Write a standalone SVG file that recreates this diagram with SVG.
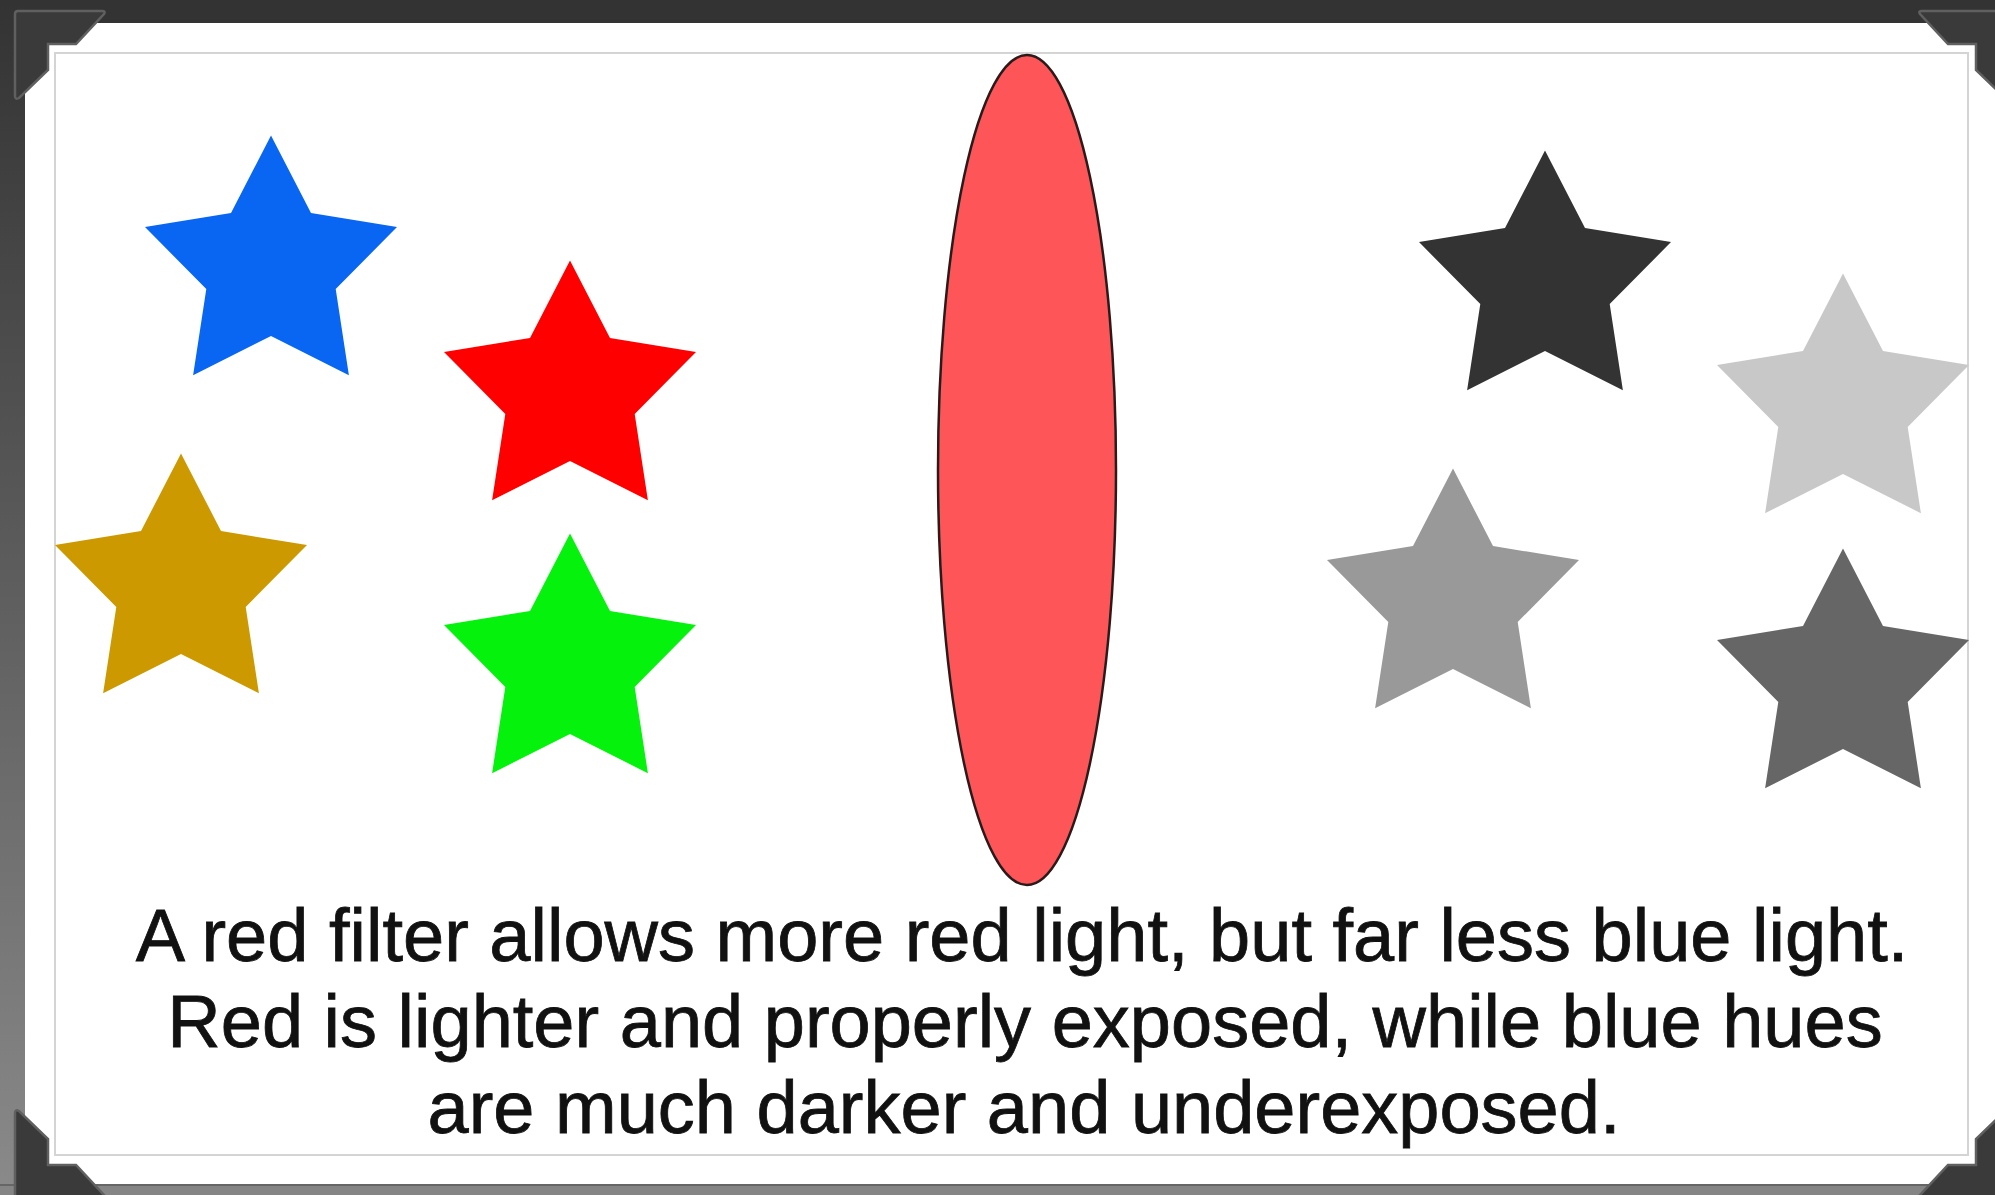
<svg xmlns="http://www.w3.org/2000/svg" width="1995" height="1195" viewBox="0 0 1995 1195">
  <defs>
    <linearGradient id="leftGrad" x1="0" y1="0" x2="0" y2="1">
      <stop offset="0" stop-color="#333333"/>
      <stop offset="1" stop-color="#8a8a8a"/>
    </linearGradient>
    <path id="star" d="M0,-132.5 L40,-55 L126,-40.9 L64.7,21 L77.9,107.2 L0,68 L-77.9,107.2 L-64.7,21 L-126,-40.9 L-40,-55 Z"/>
    <path id="corner" d="M15,14 Q15,11 18,11 L102,11 Q106,11 104,14 L76,44 L48,44 L48,70 L19,98 Q15,100 15,96 Z"/>
    <style>
      .corner { fill: #3a3a3a; stroke: #606060; stroke-width: 2.5; }
      .caption { font-family: "Liberation Sans", Arial, sans-serif; font-size: 74px; fill: #111111; stroke: #111111; stroke-width: 0.8; text-anchor: middle; }
    </style>
  </defs>

  <!-- frame background -->
  <rect x="0" y="0" width="1995" height="1195" fill="#333333"/>
  <rect x="0" y="0" width="25" height="1195" fill="url(#leftGrad)"/>
  <rect x="0" y="1184" width="1995" height="11" fill="#858585"/>
  <rect x="0" y="1184" width="1995" height="2" fill="#666666"/>

  <!-- paper -->
  <rect x="25" y="23" width="1970" height="1161" fill="#ffffff"/>
  <rect x="55" y="53" width="1913" height="1102" fill="none" stroke="#d4d4d4" stroke-width="2"/>

  <!-- corner brackets -->
  <g id="corners">
    <use href="#corner" class="corner"/>
    <use href="#corner" class="corner" transform="translate(2024,0) scale(-1,1)"/>
    <use href="#corner" class="corner" transform="translate(0,1209) scale(1,-1)"/>
    <use href="#corner" class="corner" transform="translate(2024,1209) scale(-1,-1)"/>
  </g>

  <!-- original colour stars -->
  <g id="star-blue"><use href="#star" fill="#0866F2" transform="translate(271,268)"/></g>
  <g id="star-red"><use href="#star" fill="#FF0000" transform="translate(570,393)"/></g>
  <g id="star-gold"><use href="#star" fill="#CC9900" transform="translate(181,586)"/></g>
  <g id="star-green"><use href="#star" fill="#05F20C" transform="translate(570,666)"/></g>

  <!-- red filter -->
  <g id="filter">
    <ellipse cx="1027" cy="470" rx="89" ry="415" fill="#FE5559" stroke="#2a1a1a" stroke-width="2.5"/>
  </g>

  <!-- grey result stars -->
  <g id="star-black"><use href="#star" fill="#333333" transform="translate(1545,283)"/></g>
  <g id="star-lightgray"><use href="#star" fill="#C8C8C8" transform="translate(1843,406)"/></g>
  <g id="star-midgray"><use href="#star" fill="#999999" transform="translate(1453,601)"/></g>
  <g id="star-darkgray"><use href="#star" fill="#666666" transform="translate(1843,681)"/></g>

  <g id="connectors"></g>

  <!-- caption -->
  <g id="caption">
    <text class="caption" x="1022" y="961">A red filter allows more red light, but far less blue light.</text>
    <text class="caption" x="1025" y="1047">Red is lighter and properly exposed, while blue hues</text>
    <text class="caption" x="1024" y="1133">are much darker and underexposed.</text>
  </g>
</svg>
